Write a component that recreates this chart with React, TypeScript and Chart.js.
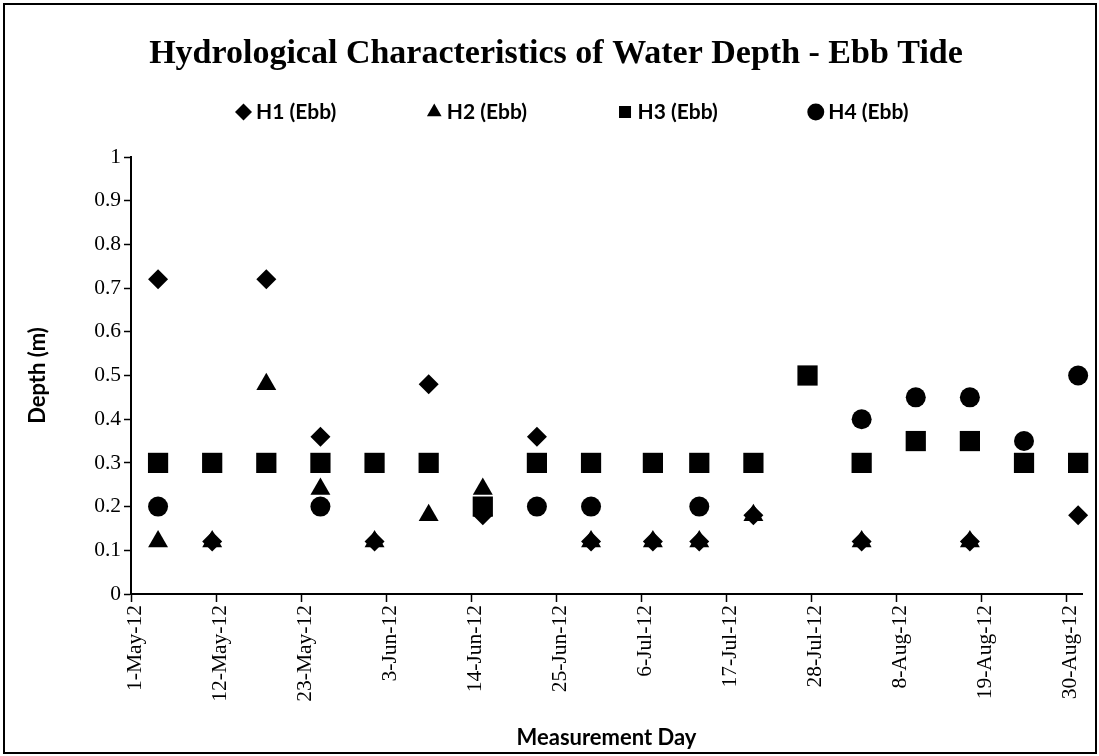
import React, { useEffect, useRef } from 'react';
import { Chart, registerables } from 'chart.js';

Chart.register(...registerables);

// ---------- data ----------
const chartTitle = 'Hydrological Characteristics of Water Depth - Ebb Tide';
const xAxisTitle = 'Measurement Day';
const yAxisTitle = 'Depth (m)';
const seriesLabels = ['H1 (Ebb)', 'H2 (Ebb)', 'H3 (Ebb)', 'H4 (Ebb)'];

const measurementDates = [
  '4-May-12', '11-May-12', '18-May-12', '25-May-12', '1-Jun-12', '8-Jun-12',
  '15-Jun-12', '22-Jun-12', '29-Jun-12', '7-Jul-12', '13-Jul-12', '20-Jul-12',
  '27-Jul-12', '3-Aug-12', '10-Aug-12', '17-Aug-12', '24-Aug-12', '31-Aug-12',
];
const h1Ebb = [0.72, 0.12, 0.72, 0.36, 0.12, 0.48, 0.18, 0.36, 0.12, 0.12, 0.12, 0.18, null, 0.12, null, 0.12, null, 0.18];
const h2Ebb = [0.12, 0.12, 0.48, 0.24, 0.12, 0.18, 0.24, null, 0.12, 0.12, 0.12, 0.18, null, 0.12, null, 0.12, null, null];
const h3Ebb = [0.3, 0.3, 0.3, 0.3, 0.3, 0.3, 0.2, 0.3, 0.3, 0.3, 0.3, 0.3, 0.5, 0.3, 0.35, 0.35, 0.3, 0.3];
const h4Ebb = [0.2, null, null, 0.2, null, null, null, 0.2, 0.2, null, 0.2, null, null, 0.4, 0.45, 0.45, 0.35, 0.5];

const xTickLabels = [
  '1-May-12', '12-May-12', '23-May-12', '3-Jun-12', '14-Jun-12', '25-Jun-12',
  '6-Jul-12', '17-Jul-12', '28-Jul-12', '8-Aug-12', '19-Aug-12', '30-Aug-12',
];
const yTickLabels = ['0', '0.1', '0.2', '0.3', '0.4', '0.5', '0.6', '0.7', '0.8', '0.9', '1'];
const axisStart = '1-May-12';
const axisEnd = '1-Sep-12';

// ---------- helpers ----------
const MONTHS: Record<string, number> = {
  Jan: 0, Feb: 1, Mar: 2, Apr: 3, May: 4, Jun: 5, Jul: 6, Aug: 7, Sep: 8, Oct: 9, Nov: 10, Dec: 11,
};
function dayNumber(label: string): number {
  const [d, m, y] = label.split('-');
  return Date.UTC(2000 + Number(y), MONTHS[m], Number(d)) / 86400000;
}
const origin = dayNumber(axisStart);
const dayOffset = (label: string) => dayNumber(label) - origin;
// date-axis points sit in the middle of their day slot
const dayCenter = (label: string) => dayOffset(label) + 0.5;

function points(values: (number | null)[]) {
  return measurementDates
    .map((d, i) => ({ x: dayCenter(d), y: values[i] }))
    .filter((p) => p.y !== null) as { x: number; y: number }[];
}

const SERIF = "'Liberation Serif', 'Times New Roman', serif";
const SANS = "Lato, 'Liberation Sans', Arial, sans-serif";

const TITLE_CX = 556;
const LEGEND_X0 = 241;
const LEGEND_CY = 112;
const LEGEND_FONT = 21;

const framePlugin = {
  id: 'frame',
  afterDraw(chart: any) {
    const ctx = chart.ctx;
    ctx.save();
    ctx.strokeStyle = '#000';
    ctx.lineWidth = 2;
    ctx.strokeRect(4, 4, 1092, 749);
    ctx.restore();
  },
};

const placeBlocks = {
  id: 'placeBlocks',
  afterLayout(chart: any) {
    const t = chart.titleBlock;
    if (t) {
      const d = TITLE_CX - (t.left + t.right) / 2;
      t.left += d;
      t.right += d;
    }
    const lg = chart.legend;
    if (lg && lg.lineWidths) {
      const P = lg.options.labels.padding;
      const lw = lg.lineWidths[0];
      lg.left = LEGEND_X0 - P;
      lg.right = LEGEND_X0 + lw + 1;
      lg.width = lg.right - lg.left;
      lg.top = LEGEND_CY - LEGEND_FONT / 2 - P;
      lg.bottom = LEGEND_CY + LEGEND_FONT;
      lg.height = lg.bottom - lg.top;
    }
  },
};

export default function App() {
  const ref = useRef<HTMLCanvasElement>(null);

  useEffect(() => {
    const canvas = ref.current;
    if (!canvas) return;
    const common = {
      backgroundColor: '#000',
      borderColor: '#000',
      pointBackgroundColor: '#000',
      pointBorderColor: '#000',
      pointBorderWidth: 0,
      borderWidth: 0,
      showLine: false,
      clip: false as any,
    };
    const chart = new Chart(canvas, {
      type: 'scatter',
      data: {
        datasets: [
          { ...common, label: seriesLabels[0], data: points(h1Ebb), pointStyle: 'rectRot', pointRadius: 10 },
          { ...common, label: seriesLabels[1], data: points(h2Ebb), pointStyle: 'triangle', pointRadius: 11.5 },
          { ...common, label: seriesLabels[2], data: points(h3Ebb), pointStyle: 'rect', pointRadius: 14.3 },
          { ...common, label: seriesLabels[3], data: points(h4Ebb), pointStyle: 'circle', pointRadius: 10 },
        ],
      },
      options: {
        responsive: false,
        animation: false,
        events: [],
        layout: { padding: { left: 0, right: 17, top: 0, bottom: 0 } },
        plugins: {
          tooltip: { enabled: false },
          title: {
            display: true,
            text: chartTitle,
            color: '#000',
            font: { family: SERIF, size: 34, weight: 'bold' },
            padding: { top: 34, bottom: 81.2 },
          },
          legend: {
            display: true,
            position: 'top',
            maxHeight: 1,
            labels: {
              usePointStyle: true,
              boxWidth: 4,
              boxHeight: 12,
              padding: 96,
              color: '#000',
              font: { family: SANS, size: LEGEND_FONT, weight: 'bold' },
            },
          },
        },
        scales: {
          x: {
            type: 'linear',
            min: 0,
            max: dayOffset(axisEnd),
            afterBuildTicks: (s: any) => {
              s.ticks = xTickLabels.map((l) => ({ value: dayOffset(l) }));
            },
            afterFit: (s: any) => {
              s.height = 162;
            },
            ticks: {
              autoSkip: false,
              minRotation: 90,
              maxRotation: 90,
              padding: 3,
              labelOffset: 4,
              color: '#000',
              font: { family: SERIF, size: 21.5 },
              callback: (_v: any, i: number) => xTickLabels[i],
            },
            grid: {
              display: true,
              drawOnChartArea: false,
              drawTicks: true,
              tickLength: 8,
              tickWidth: 1.5,
              tickColor: '#000',
              color: '#000',
            },
            border: { display: true, color: '#000', width: 2 },
            title: {
              display: true,
              text: xAxisTitle,
              color: '#000',
              font: { family: SANS, size: 22, weight: 'bold' },
              padding: { top: 0, bottom: 5 },
            },
          },
          y: {
            type: 'linear',
            min: 0,
            max: 1,
            afterBuildTicks: (s: any) => {
              s.ticks = yTickLabels.map((l) => ({ value: parseFloat(l) }));
            },
            afterFit: (s: any) => {
              s.width = 131;
            },
            ticks: {
              padding: 3,
              color: '#000',
              font: { family: SERIF, size: 21.5 },
              callback: (_v: any, i: number) => yTickLabels[i],
            },
            grid: {
              display: true,
              drawOnChartArea: false,
              drawTicks: true,
              tickLength: 7,
              tickWidth: 1.5,
              tickColor: '#000',
              color: '#000',
            },
            border: { display: true, color: '#000', width: 2 },
            title: {
              display: true,
              text: yAxisTitle,
              color: '#000',
              font: { family: SANS, size: 22, weight: 'bold' },
              padding: { top: 25, bottom: 0 },
            },
          },
        },
      },
      plugins: [placeBlocks, framePlugin],
    } as any);
    return () => chart.destroy();
  }, []);

  return (
    <div style={{ position: 'absolute', left: 0, top: 0, width: 1099, height: 756, background: '#fff' }}>
      <canvas ref={ref} width={1099} height={756} style={{ display: 'block', width: 1099, height: 756 }} />
    </div>
  );
}
